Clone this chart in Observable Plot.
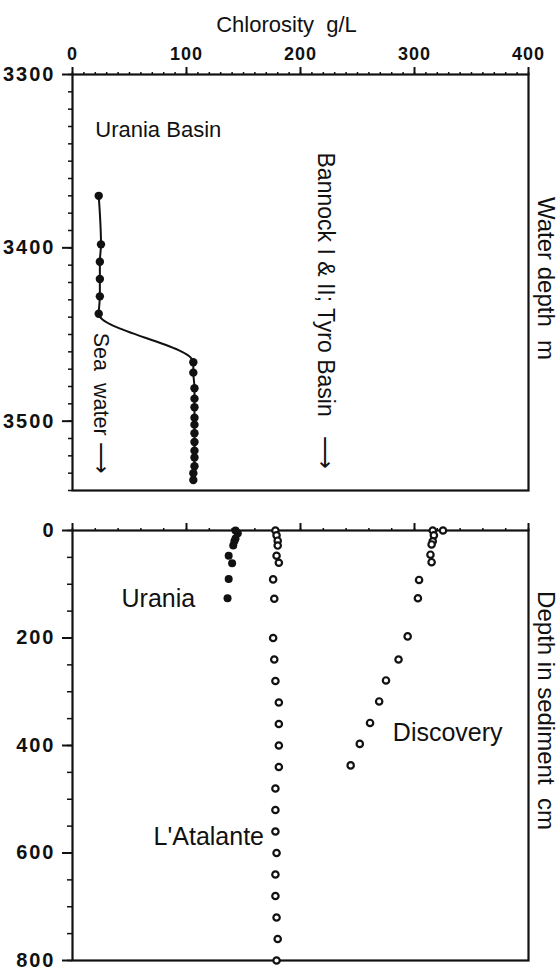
<!DOCTYPE html>
<html>
<head>
<meta charset="utf-8">
<script src="https://cdn.jsdelivr.net/npm/d3@7"></script>
<script src="https://cdn.jsdelivr.net/npm/@observablehq/plot@0.6"></script>
<style>
  body { margin: 0; background: #fff; }
  #chart { position: relative; width: 560px; height: 970px; background: #fff; }
  #chart svg { position: absolute; left: 0; }
  #chart svg text { white-space: pre; }
  #chart g[aria-label="y-axis tick label"] text { letter-spacing: 2px; }
  #chart g[aria-label="x-axis tick label"] text { letter-spacing: 1px; }
</style>
</head>
<body>
<div id="chart"></div>
<script>
// ---------- Upper panel: Urania Basin water column ----------
const waterChlorosity = [23, 25, 24, 24, 24, 23, 106, 106, 107, 107, 107, 107, 107, 107, 107, 107, 107, 107, 106, 106];
const waterDepth      = [3370, 3398, 3408, 3418, 3428, 3438, 3466, 3472, 3481, 3487, 3492, 3498, 3502, 3507, 3512, 3517, 3521, 3526, 3530, 3534];

// ---------- Lower panel: sediment pore waters ----------
const uraniaSedChlorosity = [143, 145, 143, 142, 141, 137, 140, 137, 136];
const uraniaSedDepth      = [0, 5, 15, 20, 28, 47, 61, 90, 126];

const atalanteChlorosity = [178, 179, 180, 180, 179, 181, 176, 177, 176, 177, 178, 181, 181, 181, 181, 178, 178, 178, 179, 178, 178, 179, 180, 179];
const atalanteDepth      = [0, 9, 19, 28, 47, 60, 91, 127, 200, 240, 280, 320, 360, 400, 440, 480, 520, 560, 600, 640, 680, 720, 760, 800];

const discoveryChlorosity = [316, 325, 317, 316, 315, 314, 315, 304, 303, 294, 286, 275, 269, 261, 252, 244];
const discoveryDepth      = [0, 0, 9, 20, 26, 45, 59, 92, 126, 197, 240, 279, 318, 358, 397, 437];

// ---------- Axes ----------
const chlorosityTicks = [0, 100, 200, 300, 400];
const chlorosityMinorTop = d3.range(0, 401, 10);
const chlorosityMinorBottom = d3.range(0, 401, 20);
const waterDepthTicks = [3300, 3400, 3500];
const waterDepthMinor = d3.range(3300, 3541, 10);
const sedDepthTicks = [0, 200, 400, 600, 800];
const sedDepthMinor = d3.range(0, 801, 50);

// ---------- Text ----------
const titleText = ["Chlorosity  g/L"];
const waterAxisLabel = ["Water depth  m"];
const sedAxisLabel = ["Depth in sediment  cm"];

const basinLabel = ["Urania Basin"];
const basinLabelX = [20];
const basinLabelY = [3332];

const seaWaterLabel = ["Sea  water \u27F6"];
const seaWaterX = [25];
const seaWaterY = [3449];

const bannockLabel = ["Bannock I & II; Tyro Basin   \u27F6"];
const bannockX = [222];
const bannockY = [3345];

const uraniaLabel = ["Urania"];
const uraniaLabelX = [43];
const uraniaLabelY = [128];

const discoveryLabel = ["Discovery"];
const discoveryLabelX = [281];
const discoveryLabelY = [376];

const atalanteLabel = ["L'Atalante"];
const atalanteLabelX = [168];
const atalanteLabelY = [571];

const FONT = "'Liberation Sans', Arial, Helvetica, sans-serif";
const INK = "#111";

const topPlot = Plot.plot({
  width: 560,
  height: 500,
  marginTop: 74,
  marginRight: 32,
  marginBottom: 10,
  marginLeft: 72,
  style: {fontFamily: FONT, color: INK, background: "transparent", overflow: "visible"},
  x: {domain: [0, 400]},
  y: {domain: [3300, 3540], reverse: true},
  marks: [
    Plot.axisX({anchor: "top", ticks: chlorosityMinorTop, tickSize: 3, strokeWidth: 1.5, fill: "none", label: null}),
    Plot.axisX({anchor: "top", ticks: chlorosityTicks, tickSize: 8, tickPadding: 7, strokeWidth: 2, fontSize: 18, fontWeight: "bold", tickFormat: "d", label: null}),
    Plot.axisY({anchor: "left", ticks: waterDepthMinor, tickSize: 4, strokeWidth: 1.5, fill: "none", label: null}),
    Plot.axisY({anchor: "left", ticks: waterDepthTicks, tickSize: 10, tickPadding: 7, strokeWidth: 2, fontSize: 20, fontWeight: "bold", tickFormat: "d", label: null}),
    Plot.frame({stroke: INK, strokeWidth: 2.2}),
    Plot.line(waterDepth, {x: waterChlorosity, y: waterDepth, curve: "monotone-y", stroke: INK, strokeWidth: 2}),
    Plot.dot(waterDepth, {x: waterChlorosity, y: waterDepth, r: 4.2, fill: INK, stroke: "none"}),
    Plot.text(titleText, {frameAnchor: "top", dx: -14, dy: -58, fontSize: 22, fill: INK}),
    Plot.text(waterAxisLabel, {frameAnchor: "right", textAnchor: "middle", dx: 17, dy: -4, rotate: 90, fontSize: 24, fill: INK}),
    Plot.text(basinLabel, {x: basinLabelX, y: basinLabelY, textAnchor: "start", fontSize: 22, fill: INK}),
    Plot.text(seaWaterLabel, {x: seaWaterX, y: seaWaterY, textAnchor: "start", rotate: 90, fontSize: 21.5, fill: INK}),
    Plot.text(bannockLabel, {x: bannockX, y: bannockY, textAnchor: "start", rotate: 90, fontSize: 23, fill: INK})
  ]
});
topPlot.style.top = "0px";

const bottomPlot = Plot.plot({
  width: 560,
  height: 470,
  marginTop: 30,
  marginRight: 32,
  marginBottom: 10,
  marginLeft: 72,
  style: {fontFamily: FONT, color: INK, background: "transparent", overflow: "visible"},
  x: {domain: [0, 400]},
  y: {domain: [0, 800], reverse: true},
  marks: [
    Plot.axisX({anchor: "top", ticks: chlorosityMinorBottom, tickSize: 3, strokeWidth: 1.5, fill: "none", label: null}),
    Plot.axisX({anchor: "top", ticks: chlorosityTicks, tickSize: 8, strokeWidth: 2, fill: "none", label: null}),
    Plot.axisY({anchor: "left", ticks: sedDepthMinor, tickSize: 5, strokeWidth: 1.5, fill: "none", label: null}),
    Plot.axisY({anchor: "left", ticks: sedDepthTicks, tickSize: 10, tickPadding: 7, strokeWidth: 2, fontSize: 20, fontWeight: "bold", tickFormat: "d", label: null}),
    Plot.frame({stroke: INK, strokeWidth: 2.2}),
    Plot.dot(uraniaSedDepth, {x: uraniaSedChlorosity, y: uraniaSedDepth, r: 4, fill: INK, stroke: "none"}),
    Plot.dot(atalanteDepth, {x: atalanteChlorosity, y: atalanteDepth, r: 3.2, fill: "white", stroke: INK, strokeWidth: 2.2}),
    Plot.dot(discoveryDepth, {x: discoveryChlorosity, y: discoveryDepth, r: 3.2, fill: "white", stroke: INK, strokeWidth: 2.2}),
    Plot.text(uraniaLabel, {x: uraniaLabelX, y: uraniaLabelY, textAnchor: "start", fontSize: 25, fill: INK}),
    Plot.text(discoveryLabel, {x: discoveryLabelX, y: discoveryLabelY, textAnchor: "start", fontSize: 25, fill: INK}),
    Plot.text(atalanteLabel, {x: atalanteLabelX, y: atalanteLabelY, textAnchor: "end", fontSize: 25, fill: INK}),
    Plot.text(sedAxisLabel, {frameAnchor: "right", textAnchor: "middle", dx: 17, dy: -35, rotate: 90, fontSize: 24, fill: INK})
  ]
});
bottomPlot.style.top = "500px";

const chart = document.getElementById("chart");
chart.appendChild(topPlot);
chart.appendChild(bottomPlot);
</script>
</body>
</html>
